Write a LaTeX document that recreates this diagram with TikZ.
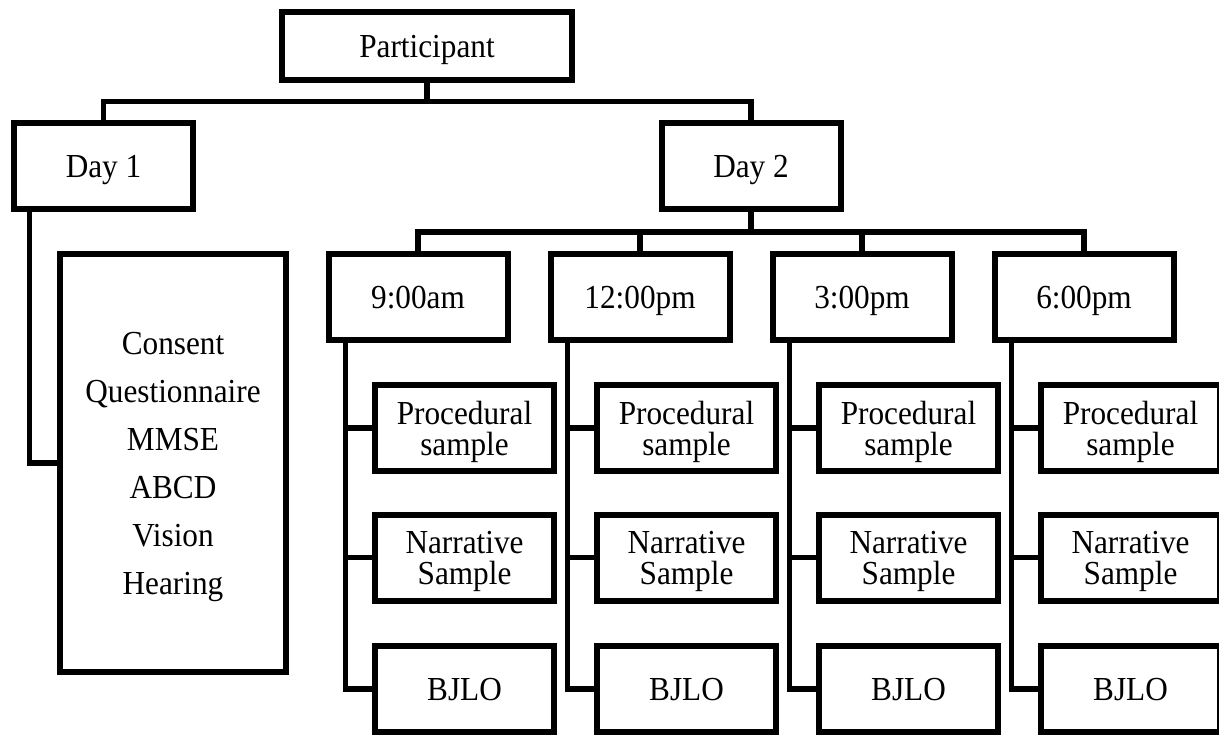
\documentclass[tikz,border=0pt]{standalone}
\usepackage{fontspec}
\setmainfont{Liberation Serif}[FakeStretch=0.93]
\usetikzlibrary{scopes}
\tikzset{
  bx/.style={rectangle, draw, line width=3pt, minimum width=89.5pt, minimum height=43pt,
    inner sep=0pt, align=center, text depth=0pt, font=\fontsize{16.8}{15.5}\selectfont},
  ln/.style={draw, line width=2.7pt}
}

\begin{document}
\begin{tikzpicture}[x=0.5pt, y=-0.5pt]
  \useasboundingbox (0,0) rectangle (1219,734);
  \node[bx, minimum width=145pt, minimum height=34pt] (pt) at (427,46) {Participant};
  \node[bx] (d1) at (103.5,166) {Day 1};
  \node[bx] (d2) at (751,166) {Day 2};
  \node[bx, minimum width=113pt, minimum height=209pt, font=\fontsize{16.8}{24}\selectfont]
    (ct) at (173,463) {Consent\\Questionnaire\\MMSE\\ABCD\\Vision\\Hearing};
  % times of day 2
  \node[bx] (t1) at (418,297) {9:00am};
  \node[bx] (t2) at (640,297) {12:00pm};
  \node[bx] (t3) at (862,297) {3:00pm};
  \node[bx] (t4) at (1084,297) {6:00pm};
  % samples
  \node[bx] (p1) at (464.5,428) {Procedural\\sample};
  \node[bx] (n1) at (464.5,557.5) {Narrative\\Sample};
  \node[bx] (b1) at (464.5,689) {BJLO};
  \node[bx] (p2) at (686.5,428) {Procedural\\sample};
  \node[bx] (n2) at (686.5,557.5) {Narrative\\Sample};
  \node[bx] (b2) at (686.5,689) {BJLO};
  \node[bx] (p3) at (908.5,428) {Procedural\\sample};
  \node[bx] (n3) at (908.5,557.5) {Narrative\\Sample};
  \node[bx] (b3) at (908.5,689) {BJLO};
  \node[bx] (p4) at (1130.5,428) {Procedural\\sample};
  \node[bx] (n4) at (1130.5,557.5) {Narrative\\Sample};
  \node[bx] (b4) at (1130.5,689) {BJLO};

  \coordinate (top) at (427,101.5);
  \coordinate (mid) at (751,232);
  \coordinate (s0) at ([xshift=9.3pt]d1.south west);
  \coordinate (s1) at ([xshift=10pt]t1.south west);
  \coordinate (s2) at ([xshift=10pt]t2.south west);
  \coordinate (s3) at ([xshift=10pt]t3.south west);
  \coordinate (s4) at ([xshift=10pt]t4.south west);
  {[ln]
  \draw (pt) -- (top);
  \draw (d1) |- (top) -| (d2);
  \draw (s0) |- (ct);
  \draw (d2) -- (mid);
  \draw (t1) |- (mid) -| (t4);
  \draw (t2) -- (t2 |- mid);
  \draw (t3) -- (t3 |- mid);
  }
  {[ln]
  \draw (s1) |- (b1);  \draw (s1 |- p1) -- (p1);  \draw (s1 |- n1) -- (n1);
  \draw (s2) |- (b2);  \draw (s2 |- p2) -- (p2);  \draw (s2 |- n2) -- (n2);
  \draw (s3) |- (b3);  \draw (s3 |- p3) -- (p3);  \draw (s3 |- n3) -- (n3);
  \draw (s4) |- (b4);  \draw (s4 |- p4) -- (p4);  \draw (s4 |- n4) -- (n4);
  }
\end{tikzpicture}
\end{document}
